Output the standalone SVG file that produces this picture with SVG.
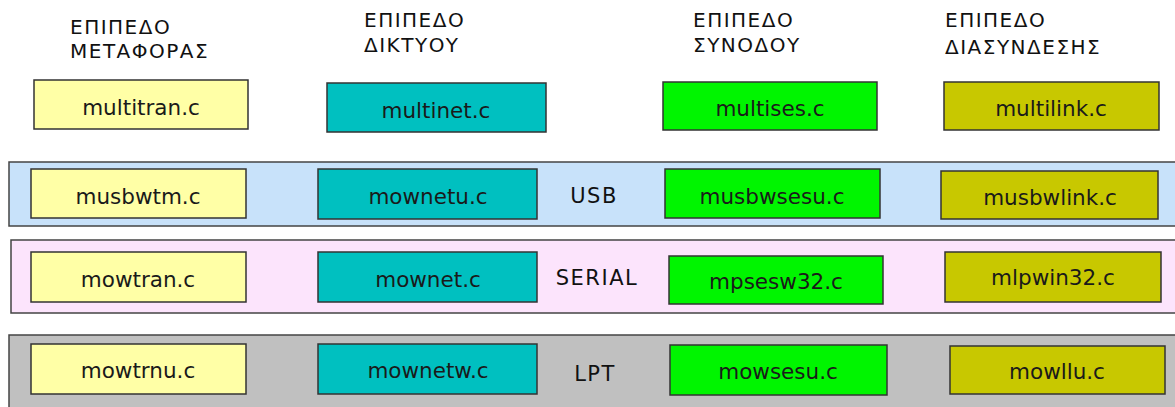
<svg xmlns="http://www.w3.org/2000/svg" width="1175" height="407" viewBox="0 0 1175 407">
  <style>
    .hdr { font-family: "DejaVu Sans", Verdana, sans-serif; font-size: 20px; letter-spacing: 1.5px; fill: #111; }
    .lbl { font-family: "DejaVu Sans", Verdana, sans-serif; font-size: 21.5px; fill: #1a1a1a; text-anchor: middle; dominant-baseline: central; }
    .bus { font-family: "DejaVu Sans", Verdana, sans-serif; font-size: 21px; letter-spacing: 1.5px; fill: #111; text-anchor: middle; dominant-baseline: central; }
    .box { stroke: #333; stroke-width: 1.5; }
    .band { stroke: #444; stroke-width: 1.5; }
    .tran { fill: #ffffa6; }
    .net { fill: #00c0c0; }
    .ses { fill: #00f500; }
    .link { fill: #c8c800; }
  </style>
  <rect width="1175" height="407" fill="#ffffff"/>

  <!-- layer headings -->
  <g id="headings">
    <text class="hdr" x="70" y="34">ΕΠΙΠΕΔΟ</text>
    <text class="hdr" x="70" y="58">ΜΕΤΑΦΟΡΑΣ</text>
    <text class="hdr" x="364" y="27">ΕΠΙΠΕΔΟ</text>
    <text class="hdr" x="364" y="52">ΔΙΚΤΥΟΥ</text>
    <text class="hdr" x="693" y="27">ΕΠΙΠΕΔΟ</text>
    <text class="hdr" x="693" y="52">ΣΥΝΟΔΟΥ</text>
    <text class="hdr" x="945" y="27">ΕΠΙΠΕΔΟ</text>
    <text class="hdr" x="945" y="54">ΔΙΑΣΥΝΔΕΣΗΣ</text>
  </g>

  <!-- bus bands -->
  <g id="band-usb">
    <rect class="band" x="9" y="162" width="1175" height="64" fill="#c8e2fa"/>
    <text class="bus" x="594" y="196">USB</text>
  </g>
  <g id="band-serial">
    <rect class="band" x="11" y="240" width="1175" height="73" fill="#fce4fc"/>
    <text class="bus" x="597" y="278">SERIAL</text>
  </g>
  <g id="band-lpt">
    <rect class="band" x="9" y="335" width="1175" height="80" fill="#c0c0c0"/>
    <text class="bus" x="595" y="374">LPT</text>
  </g>

  <!-- generic layer modules -->
  <g id="multitran"><rect class="box tran" x="34" y="80" width="214" height="49"/><text class="lbl" x="141" y="107">multitran.c</text></g>
  <g id="multinet"><rect class="box net" x="327" y="83" width="219" height="49"/><text class="lbl" x="436" y="110">multinet.c</text></g>
  <g id="multises"><rect class="box ses" x="663" y="82" width="214" height="48"/><text class="lbl" x="770" y="108">multises.c</text></g>
  <g id="multilink"><rect class="box link" x="944" y="82" width="215" height="48"/><text class="lbl" x="1051" y="108">multilink.c</text></g>

  <!-- USB modules -->
  <g id="musbwtrn"><rect class="box tran" x="31" y="169" width="215" height="49"/><text class="lbl" x="138" y="196">musbwtm.c</text></g>
  <g id="mownetu"><rect class="box net" x="318" y="169" width="219" height="50"/><text class="lbl" x="428" y="196">mownetu.c</text></g>
  <g id="musbwsesu"><rect class="box ses" x="665" y="169" width="215" height="49"/><text class="lbl" x="772" y="196">musbwsesu.c</text></g>
  <g id="musbwlink"><rect class="box link" x="941" y="171" width="217" height="48"/><text class="lbl" x="1050" y="197">musbwlink.c</text></g>

  <!-- SERIAL modules -->
  <g id="mowtran"><rect class="box tran" x="31" y="252" width="215" height="50"/><text class="lbl" x="138" y="279">mowtran.c</text></g>
  <g id="mownet"><rect class="box net" x="318" y="252" width="219" height="50"/><text class="lbl" x="428" y="279">mownet.c</text></g>
  <g id="mpsesw32"><rect class="box ses" x="669" y="256" width="214" height="48"/><text class="lbl" x="776" y="281">mpsesw32.c</text></g>
  <g id="mlpwin32"><rect class="box link" x="945" y="252" width="216" height="50"/><text class="lbl" x="1053" y="277">mlpwin32.c</text></g>

  <!-- LPT modules -->
  <g id="mowtrnu"><rect class="box tran" x="31" y="344" width="215" height="50"/><text class="lbl" x="138" y="370">mowtrnu.c</text></g>
  <g id="mownetw"><rect class="box net" x="318" y="344" width="219" height="50"/><text class="lbl" x="428" y="370">mownetw.c</text></g>
  <g id="mowsesu"><rect class="box ses" x="670" y="345" width="217" height="50"/><text class="lbl" x="778" y="371">mowsesu.c</text></g>
  <g id="mowllu"><rect class="box link" x="950" y="346" width="215" height="48"/><text class="lbl" x="1057" y="371">mowllu.c</text></g>

  <!-- no connectors are drawn between modules -->
  <g id="connectors"/>
</svg>
